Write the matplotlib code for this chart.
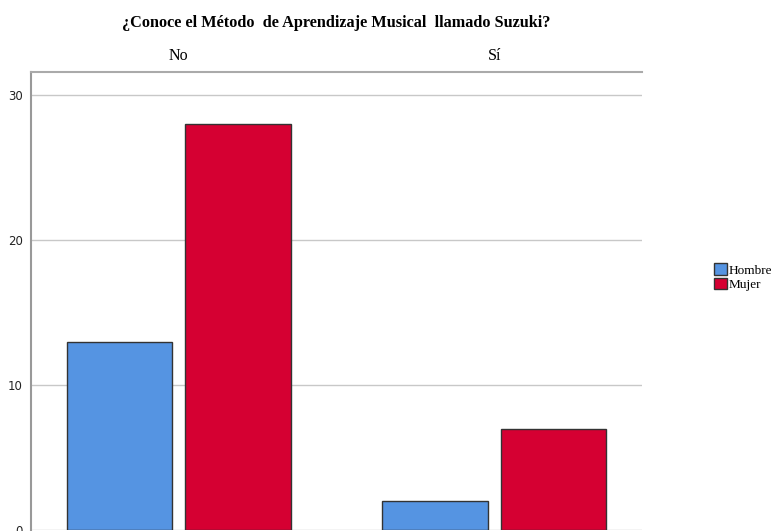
import numpy as np
import matplotlib
matplotlib.use("Agg")
import matplotlib.pyplot as plt
from matplotlib.patches import Patch

categories = ["No", "Sí"]
series = ["Hombre", "Mujer"]
hombre = [13, 2]
mujer = [28, 7]
colors = ["#5594E2", "#D50032"]

fig = plt.figure(figsize=(7.71, 5.31), dpi=100)
ax = fig.add_axes([0.0402, 0.0019, 0.7925, 0.8625])

x = np.arange(len(categories))
w = 0.335
ax.bar(x - 0.187, hombre, w, color=colors[0], edgecolor="#333333", linewidth=1, zorder=3)
ax.bar(x + 0.187, mujer, w, color=colors[1], edgecolor="#333333", linewidth=1, zorder=3)

ax.set_xlim(-0.467, 1.467)
ax.set_ylim(0, 31.6)
ax.set_yticks([0, 10, 20, 30])
ax.tick_params(axis="y", labelsize=8.5, length=0, pad=6, labelcolor="#222222")
ax.yaxis.grid(True, color="#C8C8C8", linewidth=1, zorder=0)

ax.xaxis.tick_top()
ax.set_xticks(x)
ax.set_xticklabels(categories, fontfamily="Liberation Serif", fontsize=11.5)
ax.tick_params(axis="x", length=0, pad=6)

for s in ["right", "bottom"]:
    ax.spines[s].set_visible(False)
ax.spines["left"].set_color("#999999")
ax.spines["top"].set_color("#AAAAAA")
ax.spines["left"].set_linewidth(1.5)
ax.spines["top"].set_linewidth(1.5)

fig.text(0.436, 0.956, "¿Conoce el Método  de Aprendizaje Musical  llamado Suzuki?",
         ha="center", va="center", fontfamily="Liberation Serif", fontweight="bold", fontsize=11.7)

handles = [Patch(facecolor=c, edgecolor="#333333", label=s) for c, s in zip(colors, series)]
fig.legend(handles=handles, loc="center left", bbox_to_anchor=(0.917, 0.478), frameon=False,
           prop={"family": "Liberation Serif", "size": 9.5}, handlelength=1.0, handleheight=1.0,
           handletextpad=0.15, labelspacing=0.05, borderpad=0)

fig.savefig("out.png", dpi=100)
